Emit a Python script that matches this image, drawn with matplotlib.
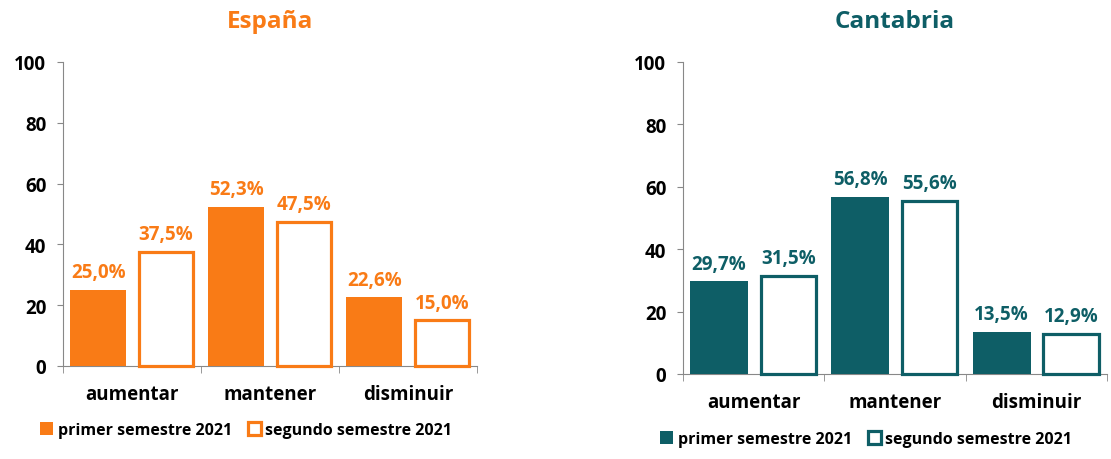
import numpy as np
import matplotlib.pyplot as plt

plt.rcParams['font.family'] = ['Open Sans', 'DejaVu Sans']
plt.rcParams['font.weight'] = 'bold'

categories = ['aumentar', 'mantener', 'disminuir']
series = ['primer semestre 2021', 'segundo semestre 2021']
espana_1 = [25.0, 52.3, 22.6]
espana_2 = [37.5, 47.5, 15.0]
cantabria_1 = [29.7, 56.8, 13.5]
cantabria_2 = [31.5, 55.6, 12.9]

orange = '#F97B16'
teal = '#0E5E66'

fig = plt.figure(figsize=(11.11, 4.6), dpi=100)
W, H = 1111, 460


def panel(rect, title, v1, v2, color, leg_x, leg_y):
    # rect in pixels: left, top, right, bottom
    l, t, r, b = rect
    ax = fig.add_axes([l / W, 1 - b / H, (r - l) / W, (b - t) / H])
    x = np.arange(len(categories))
    w = 0.41
    ax.bar(x - 0.245, v1, w, color=color, label=series[0], zorder=3)
    hollow = ax.bar(x + 0.245, v2, w - 0.02, facecolor='white', edgecolor=color,
                    linewidth=2.3, label=series[1], zorder=3)
    for p in hollow:
        p.set_clip_on(False)
    for xi, v in zip(x, v1):
        ax.text(xi - 0.245, v + 2.5, f'{v:.1f}%'.replace('.', ','),
                ha='center', va='bottom', color=color, fontsize=13.5, fontweight='bold')
    for xi, v in zip(x, v2):
        ax.text(xi + 0.245, v + 2.5, f'{v:.1f}%'.replace('.', ','),
                ha='center', va='bottom', color=color, fontsize=13.5, fontweight='bold')
    ax.set_xlim(-0.5, 2.5)
    ax.set_ylim(0, 100)
    ax.set_yticks([0, 20, 40, 60, 80, 100])
    ax.set_xticks(x)
    ax.set_xticklabels(categories)
    ax.set_xticks([-0.5, 0.5, 1.5, 2.5], minor=True)
    ax.tick_params(axis='x', which='major', length=0, pad=13, labelsize=13.5)
    ax.tick_params(axis='x', which='minor', length=5, color='#888888')
    ax.tick_params(axis='y', length=4, color='#888888', labelsize=13.5, pad=8)
    for s in ['top', 'right']:
        ax.spines[s].set_visible(False)
    for s in ['left', 'bottom']:
        ax.spines[s].set_color('#888888')
    fig.text((l + r) / 2 / W, 1 - 22 / H, title, ha='center', va='center',
             color=color, fontsize=17.5, fontweight='bold')
    ax.legend(loc='center left', bbox_to_anchor=(leg_x / W, 1 - leg_y / H),
              bbox_transform=fig.transFigure, ncol=2, frameon=False, fontsize=11.5,
              handlelength=0.8, handleheight=0.8, handletextpad=0.3,
              columnspacing=1.0, borderaxespad=0, borderpad=0)
    return ax


panel((63, 63, 477, 367), 'España', espana_1, espana_2, orange, 40, 431)
panel((683, 63, 1107, 375), 'Cantabria', cantabria_1, cantabria_2, teal, 660, 440)

plt.savefig('out.png', dpi=100)
